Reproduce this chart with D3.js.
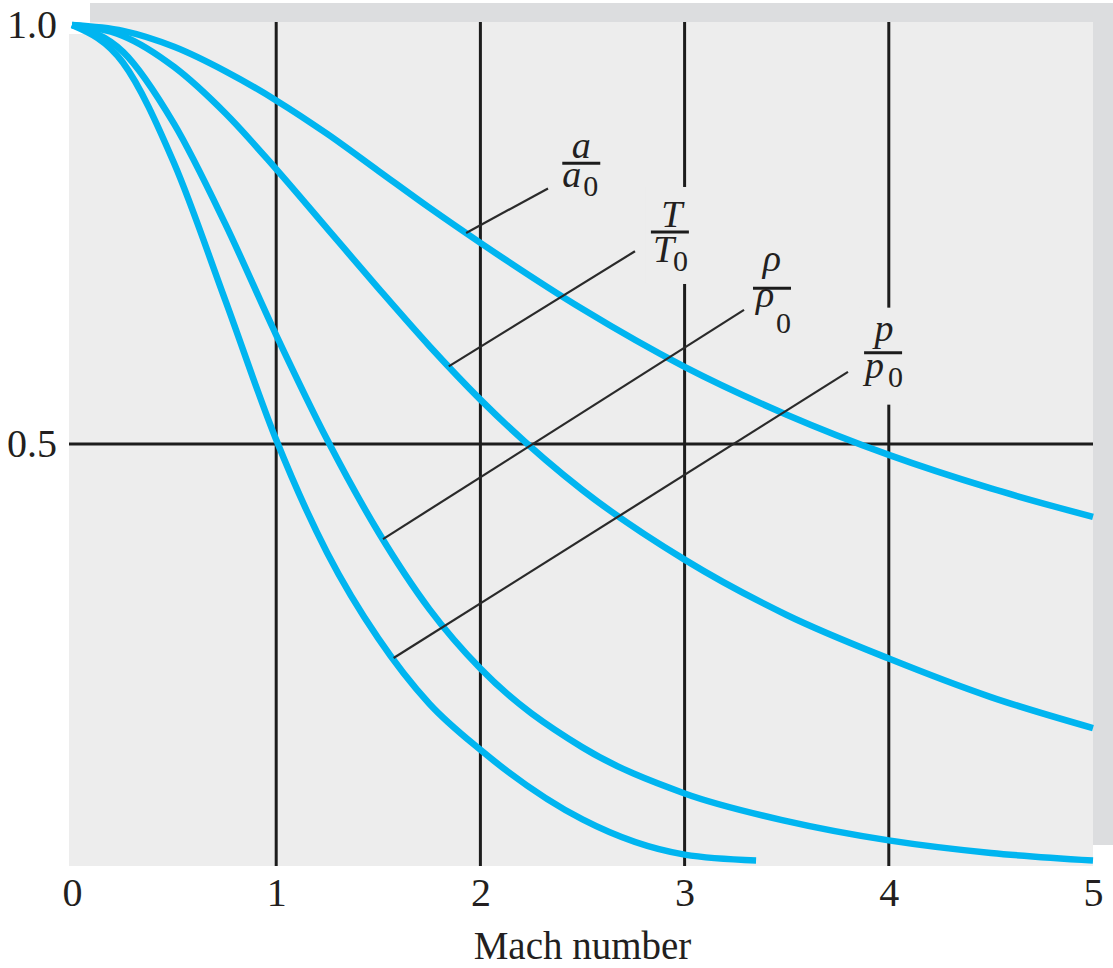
<!DOCTYPE html>
<html>
<head>
<meta charset="utf-8">
<script src="https://cdn.jsdelivr.net/npm/d3@7"></script>
<style>
	body { margin: 0; background: #fff; }
	svg { display: block; }
	.tick text { font-family: 'Liberation Serif', serif; font-size: 40px; fill: #231f20; }
	.lbl { font-family: 'Liberation Serif', serif; fill: #231f20; }
</style>
</head>
<body>
<div id="vis"></div>
<script>
// Mach number samples and ratios
var mach = [0, 0.25, 0.5, 0.75, 1, 1.25, 1.5, 1.75, 2, 2.5, 3, 3.5, 4, 4.5, 5];
var aRatio = [1, 0.993, 0.974, 0.945, 0.910, 0.870, 0.826, 0.782, 0.740, 0.661, 0.592, 0.535, 0.487, 0.447, 0.413];
var tRatio = [1, 0.987, 0.950, 0.895, 0.828, 0.757, 0.686, 0.617, 0.553, 0.445, 0.362, 0.296, 0.244, 0.198, 0.161];
var rhoRatio = [1, 0.968, 0.882, 0.763, 0.630, 0.505, 0.395, 0.303, 0.232, 0.138, 0.083, 0.050, 0.027, 0.012, 0.003];
// the p curve is cut short in the picture
var pMach = [0, 0.25, 0.5, 0.75, 1, 1.25, 1.5, 1.75, 2, 2.5, 3, 3.35];
var pRatio = [1, 0.955, 0.835, 0.672, 0.505, 0.370, 0.268, 0.190, 0.135, 0.052, 0.010, 0.003];

var xTicks = [0, 1, 2, 3, 4, 5];
var yTicks = [0.5, 1.0];
var gridMach = [1, 2, 3, 4];
var gridRatio = [0.5];

// curve labels: letter, where the leader leaves the curve, where it ends, fraction bar centre
var labelNames = ['a', 'T', 'ρ', 'p'];
var leaderFrom = [1.93, 1.845, 1.523, 1.575];
var leaderTo = [[2.331, 0.805], [2.757, 0.730], [3.291, 0.660], [3.800, 0.586]];
var labelAt = [[2.494, 0.835], [2.928, 0.753], [3.428, 0.686], [3.972, 0.609]];

buildChart();

function buildChart() {
	var width = 1113, height = 968;
	var x = d3.scaleLinear().domain([0, 5]).range([72, 1093]);
	var y = d3.scaleLinear().domain([0, 1]).range([863, 25]);

	var svg = d3.select('#vis')
		.append('svg')
		.attr('width', width)
		.attr('height', height);

	// shadow + plot panel
	svg.append('rect')
		.attr('x', x(0) + 18).attr('y', y(1) - 22)
		.attr('width', width - x(0) - 18).attr('height', y(0) - y(1) + 4)
		.style('fill', '#dcdddf');
	svg.append('rect')
		.attr('x', x(0) - 3).attr('y', y(1) - 3)
		.attr('width', x(5) - x(0) + 3).attr('height', y(0) - y(1) + 6)
		.style('fill', '#ededed');
	// small white notch at the panel's top-left corner
	svg.append('rect')
		.attr('x', x(0) - 3).attr('y', y(1) - 3)
		.attr('width', 21).attr('height', 12)
		.style('fill', '#fff');

	// grid
	svg.append('g').selectAll('line')
		.data(gridMach).enter().append('line')
		.attr('x1', function(d) { return x(d); })
		.attr('x2', function(d) { return x(d); })
		.attr('y1', y(1) - 3).attr('y2', y(0) + 3)
		.style('stroke', '#1c1c1c').style('stroke-width', 3);
	svg.append('g').selectAll('line')
		.data(gridRatio).enter().append('line')
		.attr('x1', x(0) - 3).attr('x2', x(5))
		.attr('y1', function(d) { return y(d); })
		.attr('y2', function(d) { return y(d); })
		.style('stroke', '#1c1c1c').style('stroke-width', 3);

	// axes (labels only)
	var xAxis = svg.append('g')
		.attr('transform', 'translate(0,' + (y(0) + 3) + ')')
		.call(d3.axisBottom(x).tickValues(xTicks).tickSize(0).tickPadding(12).tickFormat(d3.format('d')));
	xAxis.select('.domain').remove();
	var yAxis = svg.append('g')
		.attr('transform', 'translate(' + (x(0) - 3) + ',0)')
		.call(d3.axisLeft(y).tickValues(yTicks).tickSize(0).tickPadding(12).tickFormat(d3.format('.1f')));
	yAxis.select('.domain').remove();

	svg.append('text')
		.attr('class', 'lbl')
		.attr('x', (x(0) + x(5)) / 2)
		.attr('y', 959)
		.attr('text-anchor', 'middle')
		.style('font-size', '39px')
		.text('Mach number');

	// curves
	var series = [
		{ m: mach, v: aRatio },
		{ m: mach, v: tRatio },
		{ m: mach, v: rhoRatio },
		{ m: pMach, v: pRatio }
	];
	var line = d3.line()
		.x(function(d) { return x(d[0]); })
		.y(function(d) { return y(d[1]); })
		.curve(d3.curveMonotoneX);

	svg.append('g').selectAll('path')
		.data(series).enter().append('path')
		.attr('d', function(s) { return line(d3.zip(s.m, s.v)); })
		.style('fill', 'none')
		.style('stroke', '#00b5f0')
		.style('stroke-width', 6.5)
		.style('stroke-linecap', 'butt');

	drawLabels(svg, x, y, series);
}

// Draws fraction labels with leader lines
function drawLabels(svg, x, y, series) {
	// offsets of the glyphs from the fraction bar centre
	var lay = [
		{ nx: 0, ny: -5, dx: -19, dy: 24, sx: 2, sy: 33 },
		{ nx: 2, ny: -5, dx: -17, dy: 30, sx: 3, sy: 39 },
		{ nx: 0, ny: -17, dx: -16, dy: 19, sx: 4, sy: 45 },
		{ nx: 1, ny: -12, dx: -18, dy: 25, sx: 5, sy: 34 }
	];

	labelNames.forEach(function(name, i) {
		var cx = x(labelAt[i][0]);
		var by = y(labelAt[i][1]);
		var g = svg.append('g');

		// panel-coloured box hides grid lines behind the label
		g.append('rect')
			.attr('x', cx - 24).attr('y', by - 45)
			.attr('width', 48).attr('height', 97)
			.style('fill', '#ededed');

		var interp = d3.scaleLinear().domain(series[i].m).range(series[i].v);
		var m0 = leaderFrom[i];
		g.append('line')
			.attr('x1', x(m0)).attr('y1', y(interp(m0)))
			.attr('x2', x(leaderTo[i][0])).attr('y2', y(leaderTo[i][1]))
			.style('stroke', '#2a2a2a').style('stroke-width', 2.2);

		g.append('line')
			.attr('x1', cx - 19).attr('x2', cx + 19)
			.attr('y1', by).attr('y2', by)
			.style('stroke', '#1c1c1c').style('stroke-width', 3);

		g.append('text').attr('class', 'lbl')
			.attr('x', cx + lay[i].nx).attr('y', by + lay[i].ny)
			.attr('text-anchor', 'middle')
			.style('font-size', '38px').style('font-style', 'italic')
			.text(name);
		g.append('text').attr('class', 'lbl')
			.attr('x', cx + lay[i].dx).attr('y', by + lay[i].dy)
			.style('font-size', '38px').style('font-style', 'italic')
			.text(name);
		g.append('text').attr('class', 'lbl')
			.attr('x', cx + lay[i].sx).attr('y', by + lay[i].sy)
			.style('font-size', '30px')
			.text('0');
	});
}
</script>
</body>
</html>
